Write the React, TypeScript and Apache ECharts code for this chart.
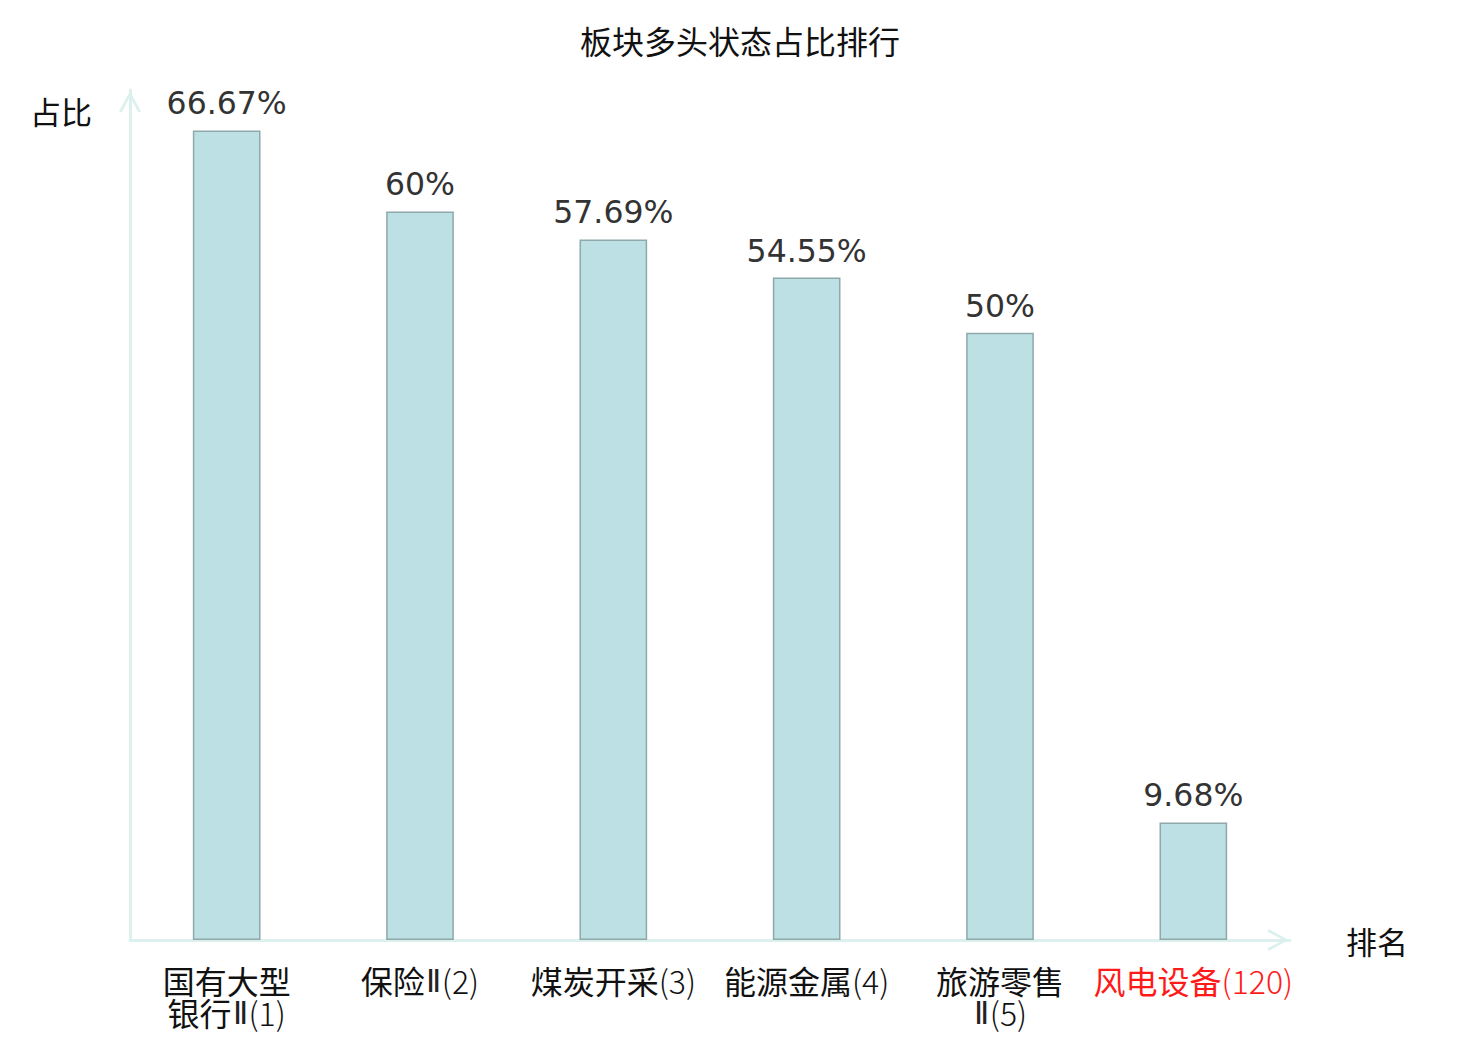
import React, { useEffect, useRef } from "react";
import * as echarts from "echarts";

const categories = [
  "国有大型\n银行Ⅱ(1)",
  "保险Ⅱ(2)",
  "煤炭开采(3)",
  "能源金属(4)",
  "旅游零售\nⅡ(5)",
  "风电设备(120)",
];
const values = [66.67, 60, 57.69, 54.55, 50, 9.68];
const highlightIndex = 5;

const chevron = "path://M11,0 L22,20 L19.5,21.5 L11,5.5 L2.5,21.5 L0,20 Z";

function splitRuns(text: string, red: boolean) {
  const runs = text.match(/[\u4e00-\u9fff]+|\n|Ⅱ|[^\u4e00-\u9fff\nⅡ]+/g) || [];
  return runs
    .map((r) => {
      if (r === "\n") return "\n";
      let key = "l";
      if (/[\u4e00-\u9fff]/.test(r)) key = "c";
      else if (r === "Ⅱ") key = "n";
      return "{" + key + (red ? "r" : "") + "|" + r + "}";
    })
    .join("");
}

export default function App() {
  const ref = useRef<HTMLDivElement>(null);
  useEffect(() => {
    if (!ref.current) return;
    const chart = echarts.init(ref.current, undefined, { renderer: "svg" });
    const axisLine = {
      show: true,
      symbol: ["none", chevron],
      symbolSize: [22, 22],
      symbolOffset: [0, -12],
      lineStyle: { color: "#dcf1ee", width: 3 },
    };
    const cjk = { fontSize: 32, lineHeight: 32, fontFamily: "Noto Sans CJK SC", fontWeight: 400 };
    const lat = { fontSize: 32, lineHeight: 32, fontFamily: "Noto Sans CJK SC", fontWeight: 300 };
    const num = { fontSize: 31, lineHeight: 32, fontFamily: "Noto Sans", fontWeight: 300, padding: [0, 1, 0, 1] };
    chart.setOption({
      animation: false,
      backgroundColor: "#ffffff",
      title: {
        text: "板块多头状态占比排行",
        left: "center",
        top: 11,
        textStyle: {
          fontSize: 32,
          fontWeight: "normal",
          color: "#111",
          fontFamily: "Noto Sans CJK SC",
        },
      },
      grid: { left: 122, right: 182, top: 82, bottom: 92, containLabel: false },
      xAxis: {
        type: "category",
        data: categories,
        name: "排名",
        nameLocation: "end",
        nameGap: 56,
        nameTextStyle: { fontSize: 31, color: "#111", fontFamily: "Noto Sans CJK SC" },
        axisLine,
        axisTick: { show: false },
        axisLabel: {
          interval: 0,
          fontSize: 32,
          lineHeight: 32,
          color: "#111",
          margin: 24,
          fontFamily: "Noto Sans CJK SC",
          formatter: (v: string, i: number) => splitRuns(v, i === highlightIndex),
          rich: {
            c: { ...cjk, color: "#111" },
            l: { ...lat, color: "#111" },
            n: { ...num, color: "#222" },
            cr: { ...cjk, color: "#ff1a1a" },
            lr: { ...lat, color: "#ff1a1a" },
            nr: { ...num, color: "#ff1a1a" },
          },
        },
      },
      yAxis: {
        type: "value",
        min: 0,
        max: 70,
        name: "占比",
        nameLocation: "end",
        nameGap: -20,
        nameTextStyle: {
          fontSize: 31,
          color: "#111",
          align: "right",
          verticalAlign: "middle",
          padding: [0, 38, 0, 0],
          fontFamily: "Noto Sans CJK SC",
        },
        axisLine,
        axisTick: { show: false },
        axisLabel: { show: false },
        splitLine: { show: false },
      },
      series: [
        {
          type: "bar",
          data: values,
          barWidth: "35%",
          itemStyle: { color: "#bce0e3", borderColor: "#8fa8a9", borderWidth: 1.5 },
          label: {
            show: true,
            position: "top",
            distance: 11,
            fontSize: 31.5,
            color: "#333",
            fontFamily: "DejaVu Sans",
            formatter: (p: any) => p.value + "%",
          },
        },
      ],
    });
    return () => chart.dispose();
  }, []);
  return <div ref={ref} style={{ width: 1464, height: 1024 }} />;
}
